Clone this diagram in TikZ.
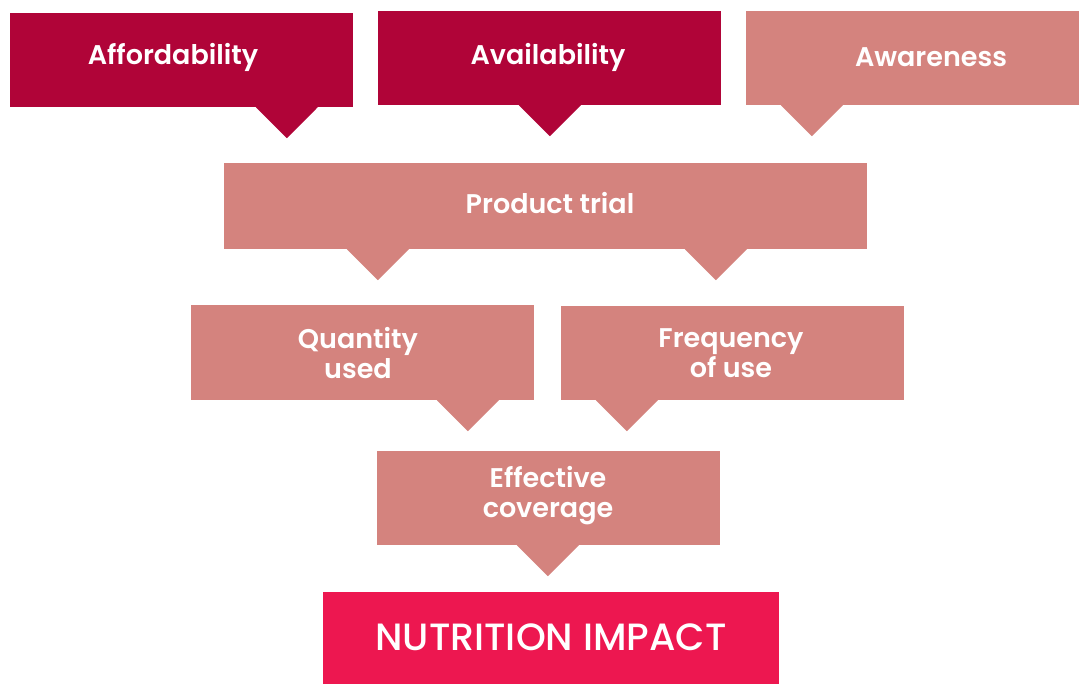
\documentclass[tikz,border=0pt]{standalone}
\usepackage{fontspec}
\setmainfont{Poppins}[BoldFont={Poppins SemiBold}]
\newfontfamily\impactfont{Poppins Medium}
\usetikzlibrary{calc}
\definecolor{darkred}{HTML}{B00438}
\definecolor{pinkbox}{HTML}{D4837E}
\definecolor{impact}{HTML}{ED1750}
\tikzset{
  box/.style={fill=#1, draw=none, inner sep=0pt, minimum height=94pt},
  lbl/.style={text=white, font=\bfseries\fontsize{27}{30}\selectfont, align=center, inner sep=0pt},
}
\newcommand{\pointer}[3]{\fill[#3] ($(#1.south west)+(#2-31,0)$) -- ++(62,0) -- ++(-31,31) -- cycle;}
\begin{document}
\begin{tikzpicture}[x=1pt,y=-1pt]
\useasboundingbox (0,0) rectangle (1079,684);
% top row
\node[box=darkred, minimum width=343pt] (aff) at (181.5,60) {};
\node[box=darkred, minimum width=343pt] (avail) at (549.5,58) {};
\node[box=pinkbox, minimum width=333pt] (aware) at (912.5,58) {};
\pointer{aff}{277}{darkred}
\pointer{avail}{172}{darkred}
\pointer{aware}{66}{pinkbox}
\node[lbl] (taff) at (173,57) {Affordability};
\node[lbl] (tavail) at (548,57) {Availability};
\node[lbl] (taware) at (931,57) {Awareness};
% product trial
\node[box=pinkbox, minimum width=643pt, minimum height=86pt] (trial) at (545.5,206) {};
\pointer{trial}{154}{pinkbox}
\pointer{trial}{492}{pinkbox}
\node[lbl] (ttrial) at (550,203) {Product trial};
% second row
\node[box=pinkbox, minimum width=343pt, minimum height=95pt] (qty) at (362.5,352.5) {};
\node[box=pinkbox, minimum width=343pt] (freq) at (732.5,353) {};
\pointer{qty}{277}{pinkbox}
\pointer{freq}{66}{pinkbox}
\node[lbl] (tqty) at (358,353) {Quantity\\used};
\node[lbl] (tfreq) at (731,353) {Frequency\\of use};
% effective coverage
\node[box=pinkbox, minimum width=343pt] (eff) at (548.5,498) {};
\pointer{eff}{171}{pinkbox}
\node[lbl] (teff) at (548,496) {Effective\\coverage};
% impact
\node[box=impact, minimum width=456pt, minimum height=92pt] (imp) at (551,638) {};
\node[text=white, font=\impactfont\fontsize{38}{44}\selectfont, inner sep=0pt] (timp) at (551,637) {NUTRITION IMPACT};
\end{tikzpicture}
\end{document}
